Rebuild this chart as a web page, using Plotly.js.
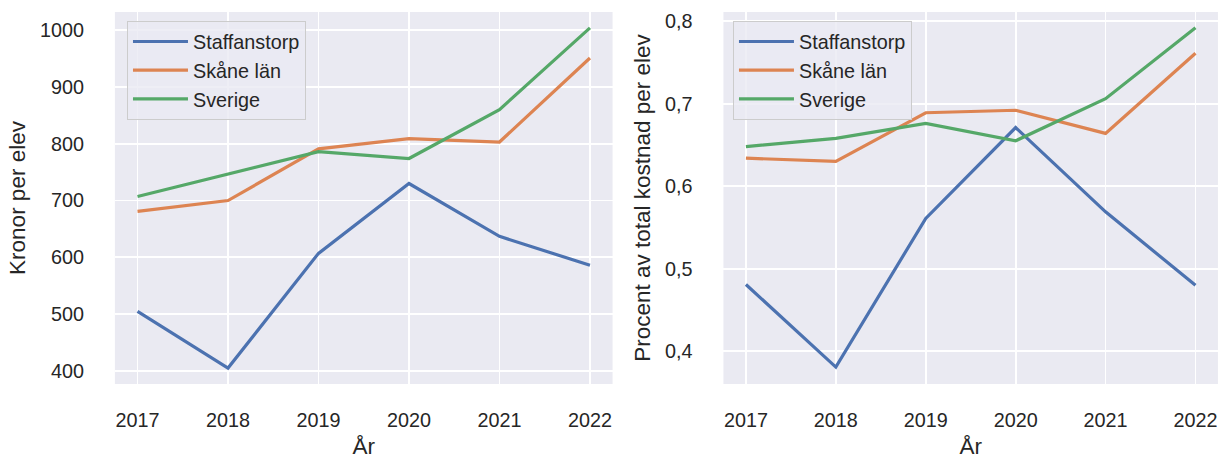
<!DOCTYPE html>
<html>
<head>
<meta charset="utf-8">
<script src="https://cdn.plot.ly/plotly-3.0.1.min.js"></script>
<style>html,body{margin:0;padding:0;background:#fff;}#chart{width:1221px;height:459px;}</style>
</head>
<body>
<div id="chart"></div>
<script>
const years = [2017, 2018, 2019, 2020, 2021, 2022];
const seriesNames = ["Staffanstorp", "Skåne län", "Sverige"];
const kronorStaffanstorp = [505, 405, 607, 730, 637, 586];
const kronorSkane = [681, 700, 791, 809, 803, 951];
const kronorSverige = [707, 747, 786, 774, 860, 1004];
const procentStaffanstorp = [0.481, 0.381, 0.561, 0.671, 0.569, 0.48];
const procentSkane = [0.634, 0.630, 0.689, 0.692, 0.664, 0.761];
const procentSverige = [0.648, 0.658, 0.676, 0.655, 0.706, 0.792];
const xTitle = "År";
const yTitleLeft = "Kronor per elev";
const yTitleRight = "Procent av total kostnad per elev";

const colors = ["#4C72B0", "#DD8452", "#55A868"];
const FONT = "Liberation Sans, Arial, sans-serif";
const tickFont = {family: FONT, size: 19.8, color: "#262626"};
const titleFont = {family: FONT, size: 22.5, color: "#262626"};

const leftData = [kronorStaffanstorp, kronorSkane, kronorSverige];
const rightData = [procentStaffanstorp, procentSkane, procentSverige];

const traces = [];
leftData.forEach((vals, i) => traces.push({
  x: years, y: vals, type: "scatter", mode: "lines", name: seriesNames[i],
  line: {color: colors[i], width: 3.2}, xaxis: "x", yaxis: "y", legend: "legend"
}));
rightData.forEach((vals, i) => traces.push({
  x: years, y: vals, type: "scatter", mode: "lines", name: seriesNames[i],
  line: {color: colors[i], width: 3.2}, xaxis: "x2", yaxis: "y2", legend: "legend2"
}));

const yDom = [0.1634, 0.9739];
function xAxis(dom, anchor) {
  return {
    domain: dom, anchor: anchor, range: [2016.75, 2022.25],
    tickvals: years, ticktext: years.map(String),
    showgrid: true, gridcolor: "#ffffff", gridwidth: 1.8, zeroline: false, showline: false,
    ticks: "outside", ticklen: 18, tickcolor: "rgba(0,0,0,0)",
    tickfont: tickFont,
    title: {text: xTitle, font: titleFont, standoff: 9},
    automargin: false, fixedrange: true
  };
}
function yAxis(range, dtick, fmt, anchor, title) {
  return {
    domain: yDom, anchor: anchor, range: range, dtick: dtick, tick0: 0, tickformat: fmt,
    showgrid: true, gridcolor: "#ffffff", gridwidth: 1.8, zeroline: false, showline: false,
    ticks: "outside", ticklen: 26, tickcolor: "rgba(0,0,0,0)",
    tickfont: tickFont,
    title: {text: title, font: titleFont, standoff: 8},
    automargin: false, fixedrange: true
  };
}
const legendStyle = {
  bgcolor: "rgba(234,234,242,0.8)", bordercolor: "#cccccc", borderwidth: 1,
  font: {family: FONT, size: 19.8, color: "#262626"},
  xanchor: "left", yanchor: "top", orientation: "v", itemwidth: 55
};

const layout = {
  width: 1221, height: 459,
  margin: {l: 0, r: 0, t: 0, b: 0},
  paper_bgcolor: "#ffffff",
  plot_bgcolor: "#EAEAF2",
  separators: ",.",
  showlegend: true,
  xaxis: xAxis([0.0941, 0.5017], "y"),
  yaxis: yAxis([377, 1032], 100, "d", "x", yTitleLeft),
  xaxis2: xAxis([0.5925, 0.9975], "y2"),
  yaxis2: yAxis([0.3605, 0.811], 0.1, ".1f", "x2", yTitleRight),
  legend: Object.assign({x: 0.104, y: 0.954}, legendStyle),
  legend2: Object.assign({x: 0.6003, y: 0.954}, legendStyle)
};

Plotly.newPlot("chart", traces, layout, {displayModeBar: false, staticPlot: true});
</script>
</body>
</html>
